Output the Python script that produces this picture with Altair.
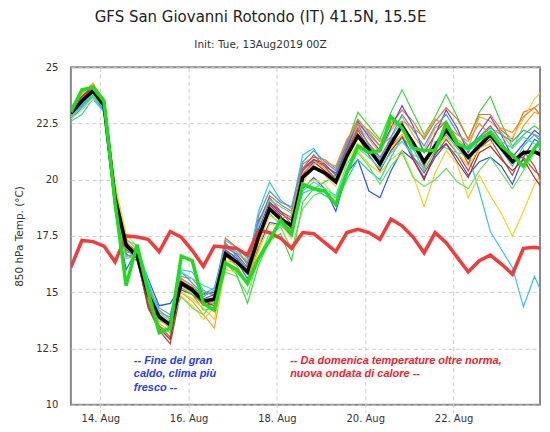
import altair as alt
import pandas as pd

# 6-hourly time steps (local time), first point 13 Aug 08:00
times = pd.date_range("2019-08-13 08:00", periods=44, freq="6h").strftime("%Y-%m-%dT%H:%M:%SZ").tolist()

mean_vals = [22.95, 23.5, 23.95, 23.3, 19.2, 17.1, 16.6, 14.9, 13.9, 13.55, 15.4, 15.1, 14.6, 14.7, 16.7, 16.35,
             15.9, 17.45, 18.7, 18.25, 17.95, 20.1, 20.55, 20.3, 19.9, 21.05, 21.95, 21.35, 20.7, 21.6, 22.4, 21.65,
             20.8, 21.5, 22.2, 21.6, 21.0, 21.5, 22.0, 21.4, 20.8, 21.2, 21.25, 21.0]

control_vals = [23.0, 24.0, 24.1, 23.5, 19.0, 15.3, 17.1, 15.0, 13.2, 13.4, 16.6, 16.4, 14.5, 14.2, 16.3, 16.0,
                15.4, 16.5, 17.3, 18.2, 17.6, 19.8, 19.6, 19.5, 18.9, 20.3, 21.5, 21.2, 21.3, 22.8, 22.3, 21.4,
                21.3, 21.3, 22.5, 21.6, 21.4, 21.8, 22.1, 21.5, 21.1, 20.6, 21.4, 22.0]

clim_vals = [16.1, 17.3, 17.25, 17.05, 16.35, 17.5, 17.45, 17.35, 16.8, 17.7, 17.45, 16.85, 16.15, 17.05, 17.0, 16.95,
             16.65, 17.75, 17.65, 17.4, 16.95, 17.65, 17.6, 17.2, 16.8, 17.65, 17.8, 17.65, 17.35, 18.25, 17.95, 17.45,
             16.75, 17.65, 17.2, 16.55, 15.9, 16.4, 16.65, 16.25, 15.8, 16.95, 17.0, 16.9]

member_names = ["p01", "p02", "p03", "p04", "p05", "p06", "p07", "p08",
                "p09", "p10", "p11", "p12", "p13", "p14", "p15", "p16"]
member_colors = ["#2f55e6", "#36c4ef", "#f5a52a", "#f4d11e", "#b5413c", "#3fd93f", "#22d3aa", "#e2772b",
                 "#6a3fe0", "#ffc72a", "#c85a3c", "#3b9cf2", "#62e262", "#a83228", "#2fe0dc", "#f0902a"]

p01 = [22.7, 23.2, 23.7, 23.1, 18.8, 16.0, 16.9, 15.6, 14.4, 14.5, 15.3, 15.2, 14.9, 15.0, 16.6, 16.4, 15.6, 17.0, 18.1, 18.0, 17.5, 19.6,
       20.1, 19.6, 18.6, 20.3, 20.9, 19.5, 19.2, 20.4, 21.3, 20.9, 20.1, 21.0, 21.6, 21.0, 20.2, 20.8, 21.0, 20.6, 19.8, 21.0, 21.8, 21.5]
p02 = [22.6, 22.9, 23.6, 23.0, 19.6, 17.4, 16.9, 15.4, 14.0, 13.4, 16.0, 15.9, 15.1, 14.8, 17.3, 17.0, 16.2, 18.6, 19.9, 19.1, 18.7, 21.1,
       21.4, 20.6, 19.9, 21.5, 22.5, 22.0, 21.5, 21.9, 22.6, 21.0, 20.5, 21.7, 21.4, 21.2, 21.1, 19.5, 17.7, 16.9, 16.1, 14.35, 15.7, 14.6]
p03 = [23.1, 23.8, 24.3, 23.5, 19.4, 17.3, 16.6, 14.8, 13.6, 13.3, 15.0, 14.6, 14.0, 13.4, 16.2, 16.1, 15.3, 16.9, 18.8, 18.3, 17.9, 20.2,
       20.9, 20.5, 20.1, 21.3, 22.4, 21.8, 21.2, 22.2, 22.8, 22.0, 21.3, 22.3, 22.6, 21.8, 21.4, 22.8, 22.6, 22.1, 21.4, 22.4, 23.0, 22.8]
p04 = [22.7, 23.1, 23.6, 23.3, 19.8, 17.6, 17.0, 15.2, 13.8, 13.7, 14.8, 14.4, 13.8, 14.3, 16.4, 16.3, 15.8, 16.8, 18.0, 18.0, 17.4, 19.7,
       20.0, 19.8, 19.2, 20.5, 21.3, 20.7, 20.3, 20.9, 21.3, 20.2, 18.8, 20.3, 21.3, 20.7, 19.2, 20.2, 19.3, 18.5, 17.5, 18.6, 19.8, 20.5]
p05 = [23.0, 23.7, 24.2, 23.4, 19.0, 16.9, 16.5, 14.3, 13.3, 12.7, 15.1, 14.9, 14.5, 14.6, 17.0, 16.7, 16.1, 18.2, 19.0, 18.6, 18.3, 20.5,
       20.9, 20.6, 20.3, 21.2, 22.2, 21.4, 20.6, 21.5, 22.0, 21.0, 20.3, 21.1, 21.8, 21.2, 20.4, 21.4, 21.8, 21.0, 20.2, 21.3, 20.6, 19.5]
p06 = [23.2, 23.6, 24.0, 23.2, 18.9, 16.8, 16.7, 14.6, 13.5, 13.2, 15.2, 14.9, 14.2, 14.3, 16.3, 15.8, 14.5, 16.2, 17.3, 17.6, 16.4, 19.0,
       19.6, 19.9, 20.2, 21.6, 23.0, 22.4, 21.8, 23.0, 24.0, 23.0, 22.0, 22.8, 23.8, 22.8, 21.8, 23.0, 23.7, 22.5, 21.5, 22.0, 22.4, 22.0]
p07 = [22.9, 23.3, 23.8, 23.2, 19.1, 17.2, 16.7, 15.0, 14.1, 13.9, 15.6, 15.3, 14.8, 15.1, 16.8, 16.6, 16.0, 17.6, 18.5, 18.0, 17.7, 19.4,
       19.6, 19.3, 19.0, 20.0, 20.9, 20.4, 20.0, 21.0, 21.9, 21.4, 20.4, 21.3, 22.0, 21.4, 20.9, 21.6, 21.9, 21.3, 20.6, 21.5, 22.0, 21.8]
p08 = [23.2, 23.9, 24.2, 23.6, 19.3, 17.0, 16.9, 15.2, 14.2, 13.8, 15.7, 15.6, 15.0, 14.9, 17.4, 17.0, 16.5, 18.0, 19.3, 18.9, 18.6, 20.7,
       21.0, 20.9, 20.5, 21.7, 22.7, 22.1, 21.5, 22.5, 23.1, 22.6, 21.8, 22.6, 23.2, 22.7, 21.8, 22.9, 22.9, 22.2, 21.8, 23.0, 23.2, 22.6]
p09 = [22.9, 23.4, 23.9, 23.4, 19.0, 17.2, 16.8, 15.1, 14.0, 13.6, 15.5, 15.2, 14.7, 14.9, 16.9, 16.5, 15.9, 17.8, 19.0, 18.5, 18.2, 20.4,
       20.9, 20.7, 20.2, 21.4, 22.6, 21.9, 21.3, 22.3, 23.3, 22.4, 21.2, 22.0, 23.1, 22.3, 21.2, 22.1, 22.8, 22.0, 21.0, 21.6, 22.2, 21.8]
p10 = [23.0, 23.6, 24.0, 23.4, 19.5, 17.4, 16.9, 15.1, 13.9, 13.4, 15.0, 14.7, 14.3, 13.8, 16.0, 15.9, 15.5, 17.2, 18.4, 18.1, 17.8, 19.9,
       20.6, 20.2, 19.7, 20.8, 21.6, 21.2, 20.8, 21.4, 22.0, 21.5, 20.6, 21.4, 21.9, 21.2, 20.6, 21.4, 21.6, 21.8, 21.9, 22.7, 23.6, 24.1]
p11 = [23.0, 23.6, 24.1, 23.3, 19.1, 16.7, 16.4, 14.5, 13.5, 13.0, 15.3, 15.0, 14.4, 14.5, 17.1, 16.8, 16.3, 18.1, 19.2, 18.6, 18.0, 20.5,
       21.1, 20.6, 20.0, 21.3, 22.3, 21.6, 21.0, 21.8, 22.3, 21.6, 20.6, 22.1, 22.6, 21.7, 20.7, 21.9, 22.4, 21.7, 20.9, 21.0, 20.4, 20.0]
p12 = [22.8, 23.3, 23.8, 23.1, 18.7, 16.6, 16.7, 15.3, 14.3, 14.0, 15.9, 15.4, 14.9, 15.2, 17.2, 16.6, 15.9, 18.4, 19.5, 19.0, 18.8, 20.8,
       21.3, 20.8, 20.4, 21.6, 22.5, 21.5, 20.9, 21.9, 22.9, 22.2, 21.5, 22.4, 22.9, 22.1, 21.5, 21.9, 22.3, 22.0, 21.7, 22.2, 22.0, 21.5]
p13 = [22.9, 23.4, 23.8, 23.2, 18.6, 16.5, 16.6, 14.7, 13.7, 13.6, 14.8, 14.3, 14.0, 14.6, 15.9, 15.7, 14.9, 16.5, 17.6, 17.9, 16.9, 18.7,
       19.3, 19.5, 19.2, 20.4, 21.2, 20.6, 19.8, 20.6, 21.2, 20.1, 19.7, 20.0, 20.5, 19.9, 19.6, 20.4, 21.0, 20.3, 19.6, 20.4, 21.2, 21.4]
p14 = [23.1, 23.7, 24.1, 23.5, 19.2, 17.0, 16.5, 14.4, 13.4, 12.9, 15.4, 15.2, 14.6, 14.4, 16.8, 16.4, 15.8, 17.5, 18.9, 18.4, 17.8, 20.2,
       20.8, 20.4, 20.0, 21.0, 21.9, 21.1, 20.4, 21.3, 21.9, 20.9, 20.0, 21.2, 21.6, 20.8, 20.1, 21.2, 21.5, 20.9, 20.4, 20.9, 20.1, 19.4]
p15 = [22.8, 23.2, 23.7, 23.0, 19.4, 17.3, 17.1, 15.5, 14.1, 13.7, 15.9, 15.6, 15.3, 15.1, 17.0, 16.8, 16.4, 18.0, 19.1, 18.8, 18.5, 19.5,
       19.9, 19.6, 19.3, 20.7, 21.4, 21.0, 20.5, 21.2, 21.7, 21.1, 20.9, 21.6, 22.1, 21.5, 21.3, 21.6, 22.2, 21.7, 21.4, 21.9, 21.6, 21.2]
p16 = [23.0, 23.5, 24.0, 23.4, 19.3, 17.2, 16.8, 15.0, 13.8, 13.4, 15.6, 15.3, 14.5, 14.2, 16.6, 16.2, 15.4, 17.3, 18.6, 18.3, 18.4, 20.3,
       20.7, 20.8, 20.6, 21.8, 22.5, 22.2, 21.7, 22.4, 22.6, 22.3, 21.9, 22.7, 22.4, 22.0, 21.7, 22.5, 22.0, 22.3, 22.1, 22.8, 23.2, 23.6]

member_values = [p01, p02, p03, p04, p05, p06, p07, p08, p09, p10, p11, p12, p13, p14, p15, p16]

y_ticks = [10, 12.5, 15, 17.5, 20, 22.5, 25]

annot_times = ["2019-08-14T18:12:00Z", "2019-08-18T07:12:00Z"]
annot_vals = [11.8, 11.8]
annot_texts = ["-- Fine del gran\ncaldo, clima più\nfresco --",
               "-- Da domenica temperature oltre norma,\nnuova ondata di calore --"]
annot_colors = ["#2b3cf5", "#f5222d"]

# ---- tables ----
rows = []
for name, vals in zip(member_names, member_values):
    for t, v in zip(times, vals):
        rows.append({"t": t, "v": v, "m": name})
df_members = pd.DataFrame(rows)
df_mean = pd.DataFrame({"t": times, "v": mean_vals})
df_ctrl = pd.DataFrame({"t": times, "v": control_vals})
df_clim = pd.DataFrame({"t": times, "v": clim_vals})
df_annot = pd.DataFrame({"t": annot_times, "v": annot_vals, "txt": annot_texts, "c": annot_colors})

x_ticks = [alt.DateTime(year=2019, month=8, date=d, utc=True) for d in (14, 16, 18, 20, 22)]
X = alt.X("t:T",
          scale=alt.Scale(type="utc",
                          domain=[alt.DateTime(year=2019, month=8, date=13, hours=8, utc=True),
                                  alt.DateTime(year=2019, month=8, date=23, hours=23, utc=True)]),
          axis=alt.Axis(values=x_ticks, format="%d. %b", title=None, grid=True,
                        gridColor="#cdcdcd", gridDash=[4, 3], domain=False,
                        ticks=True, tickColor="#cdcdcd", tickSize=8, tickDash=[3, 2],
                        labelFont="DejaVu Sans", labelFontSize=10, labelColor="#333333",
                        labelPadding=1))
Y = alt.Y("v:Q",
          scale=alt.Scale(domain=[10, 25], nice=False, zero=False),
          axis=alt.Axis(values=y_ticks, labelExpr="datum.value + ''",
                        title="850 hPa Temp. (°C)", grid=True, gridColor="#cdcdcd",
                        gridDash=[4, 3], domain=False, ticks=False,
                        labelFont="DejaVu Sans", labelFontSize=10, labelColor="#333333",
                        labelPadding=13, titleFont="DejaVu Sans", titleFontSize=10.5,
                        titleFontWeight="normal", titleColor="#333333", titlePadding=11))

members = alt.Chart(df_members).mark_line(strokeWidth=1.2, clip=True).encode(
    x=X, y=Y,
    color=alt.Color("m:N", scale=alt.Scale(domain=member_names, range=member_colors), legend=None))
clim = alt.Chart(df_clim).mark_line(strokeWidth=3.5, color="#f43a3a", clip=True).encode(x=X, y=Y)
mean = alt.Chart(df_mean).mark_line(strokeWidth=3.5, color="#000000", clip=True).encode(x=X, y=Y)
ctrl = alt.Chart(df_ctrl).mark_line(strokeWidth=3.5, color="#1fdc1f", clip=True).encode(x=X, y=Y)
annot = alt.Chart(df_annot).mark_text(align="left", baseline="alphabetic", font="Liberation Sans",
                                      fontSize=11, fontWeight="bold", fontStyle="italic",
                                      lineBreak="\n", lineHeight=13.3).encode(
    x=X, y=Y, text="txt:N", color=alt.Color("c:N", scale=None))

chart = alt.layer(members, clim, mean, ctrl, annot).properties(
    width=470, height=338,
    autosize=alt.AutoSizeParams(type="none"),
    padding={"left": 63, "top": 59, "right": 2, "bottom": 24},
    title=alt.TitleParams(text="GFS San Giovanni Rotondo (IT) 41.5N, 15.5E",
                          subtitle="Init: Tue, 13Aug2019 00Z",
                          font="DejaVu Sans", fontSize=15, fontWeight="normal", color="#222222",
                          subtitleFont="DejaVu Sans", subtitleFontSize=10.5, subtitleColor="#333333",
                          subtitlePadding=15, offset=12, anchor="middle", dx=-45)
).configure_view(stroke="#888888", strokeWidth=2)

chart.save("out.html", embed_options={"renderer": "svg", "actions": False})
